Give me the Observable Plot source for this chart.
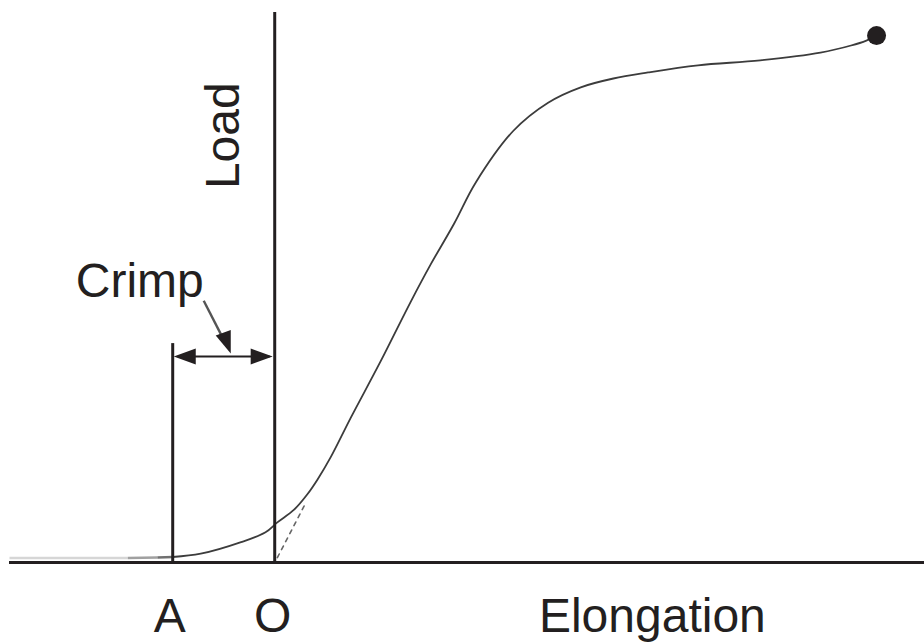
<!DOCTYPE html>
<html>
<head>
<meta charset="utf-8">
<script src="https://cdn.jsdelivr.net/npm/d3@7"></script>
<script src="https://cdn.jsdelivr.net/npm/@observablehq/plot@0.6"></script>
<style>
  html, body { margin: 0; padding: 0; background: #fff; }
  #chart { width: 924px; height: 644px; }
</style>
</head>
<body>
<div id="chart"></div>
<script>
// Load–elongation curve (elongation: O = 0, crimp A = -1 ; load in % of axis height)
const elongation = [-1.0, -0.725, -0.33, -0.09, 0.026, 0.19, 0.32, 0.42, 0.549, 0.745, 1.039, 1.333, 1.529, 1.758, 1.971, 2.34, 2.68, 3.0, 3.32, 3.66, 4.15, 4.76, 5.35, 5.65, 5.80, 5.90];
const load       = [1.0, 1.6, 3.7, 5.5, 7.3, 9.6, 12.4, 15.1, 19.15, 26.3, 36.6, 47.4, 54.2, 61.6, 69.1, 78.5, 83.6, 86.4, 88.0, 89.1, 90.4, 91.3, 92.7, 94.0, 94.9, 95.8];

// toe of the curve lying along the axis, left of A
const toeElongation = [-2.6, -1.44, -1.15, -1.0];
const toeLoad       = [0.8, 0.8, 0.9, 1.0];
const toeShade      = ["#d6d6d6", "#a0a0a0", "#707070"];

// dashed tangent extrapolated to the axis at O
const tangentElongation = [0.026, 0.30];
const tangentLoad       = [0.9, 10.7];

// reference points
const pointA = -1;
const pointO = 0;
const axisMinX = -2.6, axisMaxX = 6.37;
const loadTop = 100;
const crimpLineTop = 39.8;
const crimpArrowLoad = 37.45;

// "Crimp" pointer arrow
const pointerStart = {x: -0.696, y: 47.6};
const pointerTip   = {x: -0.431, y: 38.0};

// labels
const startLabels = [
  {text: "Crimp", x: -1.95, y: 48.2},
  {text: "Elongation", x: 2.59, y: -12.7}
];
const pointLabels = [
  {text: "A", x: -1.03, y: -12.7},
  {text: "O", x: -0.02, y: -12.7}
];
const axisTitle = {text: "Load", x: -0.353, y: 77.6};

const curve = elongation.map((x, i) => ({x, y: load[i]}));
const toe = [];
for (let i = 0; i < toeShade.length; i++) {
  toe.push({x1: toeElongation[i], x2: toeElongation[i + 1], y1: toeLoad[i], y2: toeLoad[i + 1], c: toeShade[i]});
}

// filled arrowhead symbol: apex at origin, pointing up
const head = {
  draw(ctx) {
    ctx.moveTo(0, 0);
    ctx.lineTo(-8, 22);
    ctx.lineTo(8, 22);
    ctx.closePath();
  }
};
const heads = [
  {x: pointA + 0.01, y: crimpArrowLoad, rot: -90},
  {x: pointO - 0.02, y: crimpArrowLoad, rot: 90},
  {x: pointerTip.x, y: pointerTip.y, rot: 160}
];

const ink = "#231f20";
const font = "'Liberation Sans', Arial, Helvetica, sans-serif";
const fs = 48;

const chart = Plot.plot({
  width: 924,
  height: 644,
  marginLeft: 9,
  marginRight: 0,
  marginTop: 12,
  marginBottom: 82,
  x: {domain: [axisMinX, axisMaxX], axis: null},
  y: {domain: [0, loadTop], axis: null},
  style: {background: "#fff", fontFamily: font},
  marks: [
    Plot.link(toe, {x1: "x1", x2: "x2", y1: "y1", y2: "y2", stroke: d => d.c, strokeWidth: 2.5}),
    Plot.line(tangentElongation.map((x, i) => ({x, y: tangentLoad[i]})), {x: "x", y: "y", stroke: "#666", strokeWidth: 1.6, strokeDasharray: "4,5"}),
    Plot.line(curve, {x: "x", y: "y", curve: "catmull-rom", stroke: "#3c3c3c", strokeWidth: 1.8}),
    Plot.ruleY([0], {x1: axisMinX, x2: axisMaxX, stroke: ink, strokeWidth: 3}),
    Plot.ruleX([pointO], {y1: 0, y2: loadTop, stroke: ink, strokeWidth: 3}),
    Plot.ruleX([pointA], {y1: 0, y2: crimpLineTop, stroke: ink, strokeWidth: 3}),
    Plot.link([{x1: pointA + 0.05, x2: pointO - 0.05, y: crimpArrowLoad}], {x1: "x1", x2: "x2", y1: "y", y2: "y", stroke: ink, strokeWidth: 2}),
    Plot.link([{x1: pointerStart.x, y1: pointerStart.y, x2: pointerStart.x + (pointerTip.x - pointerStart.x) * 0.78, y2: pointerStart.y + (pointerTip.y - pointerStart.y) * 0.78}], {x1: "x1", y1: "y1", x2: "x2", y2: "y2", stroke: "#555", strokeWidth: 2.4, bend: -6}),
    Plot.dot(heads, {x: "x", y: "y", rotate: "rot", symbol: head, r: 5, fill: ink, stroke: "none"}),
    Plot.dot([curve[curve.length - 1]], {x: "x", y: "y", r: 9.5, fill: ink, stroke: "none"}),
    Plot.text(startLabels, {x: "x", y: "y", text: "text", textAnchor: "start", lineAnchor: "bottom", fontSize: fs, fill: ink, fontFamily: font}),
    Plot.text(pointLabels, {x: "x", y: "y", text: "text", textAnchor: "middle", lineAnchor: "bottom", fontSize: fs, fill: ink, fontFamily: font}),
    Plot.text([axisTitle], {x: "x", y: "y", text: "text", rotate: -90, textAnchor: "middle", lineAnchor: "bottom", fontSize: fs, fill: ink, fontFamily: font})
  ]
});
document.getElementById("chart").append(chart);
</script>
</body>
</html>
